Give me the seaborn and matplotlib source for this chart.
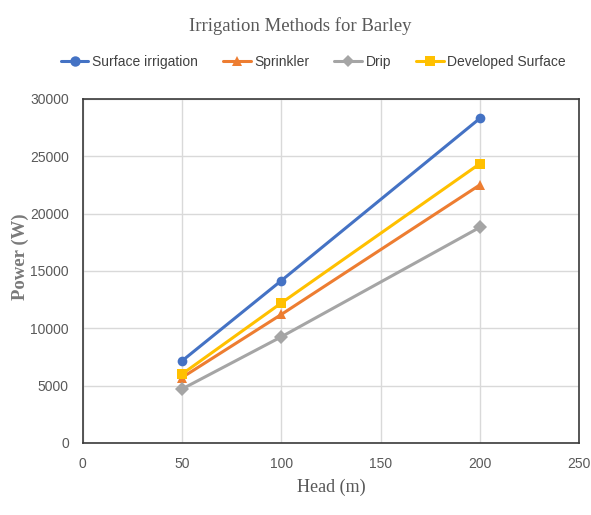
import matplotlib
matplotlib.use("Agg")
import matplotlib.pyplot as plt
import seaborn as sns
import pandas as pd

# Pumping power required for each irrigation method at various heads
head = [50, 100, 200]
surface = [7150, 14150, 28300]
sprinkler = [5700, 11200, 22500]
drip = [4700, 9250, 18800]
developed = [6000, 12200, 24350]

methods = ["Surface irrigation", "Sprinkler", "Drip", "Developed Surface"]
colors = ["#4472C4", "#ED7D31", "#A5A5A5", "#FFC000"]
markers = ["o", "^", "D", "s"]
x_ticks = [0, 50, 100, 150, 200, 250]
y_ticks = [0, 5000, 10000, 15000, 20000, 25000, 30000]

df = pd.DataFrame({
    "Head": head * 4,
    "Power": surface + sprinkler + drip + developed,
    "Method": sum([[m] * len(head) for m in methods], []),
})

sns.set_theme(style="white")
fig = plt.figure(figsize=(5.91, 5.15), dpi=100)
ax = fig.add_axes([0.140, 0.140, 0.840, 0.668])

sns.lineplot(
    data=df, x="Head", y="Power", hue="Method", style="Method",
    hue_order=methods, style_order=methods,
    palette=colors, markers=markers, dashes=False,
    linewidth=2.2, markersize=7, markeredgewidth=0, ax=ax, legend=False,
)

ax.set_xlim(0, 250)
ax.set_ylim(0, 30000)
ax.set_xticks(x_ticks)
ax.set_yticks(y_ticks)
tick_font = {"family": ["Liberation Sans", "DejaVu Sans"], "size": 10, "color": "#595959"}
ax.set_xticklabels([str(v) for v in x_ticks], **tick_font)
ax.set_yticklabels([str(v) for v in y_ticks], **tick_font)
ax.tick_params(axis="both", length=0, pad=10)
ax.grid(True, color="#D9D9D9", linewidth=1.0)
for s in ax.spines.values():
    s.set_visible(True)
    s.set_color("#3a3a3a")
    s.set_linewidth(1.2)

label_font = {"family": ["Liberation Serif", "DejaVu Serif"], "color": "#595959"}
ax.set_xlabel("Head (m)", fontsize=13, labelpad=6, **label_font)
ax.set_ylabel("Power (W)", fontsize=13.5, fontweight="bold",
              family=["Liberation Serif", "DejaVu Serif"], color="#7a7a7a")
ax.yaxis.set_label_coords(-0.108, 0.54)

fig.text(0.508, 0.950, "Irrigation Methods for Barley", ha="center", va="center",
         fontsize=13.5, **label_font)

handles = [plt.Line2D([], [], color=c, marker=m, linewidth=2.2,
                      markersize=6 if m == "D" else 7.5, markeredgewidth=0)
           for c, m in zip(colors, markers)]
leg = fig.legend(handles, methods, loc="center", bbox_to_anchor=(0.530, 0.879),
                 ncol=4, frameon=False, handlelength=2.0, handletextpad=0.25,
                 columnspacing=1.8,
                 prop={"family": ["Liberation Sans", "DejaVu Sans"], "size": 10})
for t in leg.get_texts():
    t.set_color("#404040")

fig.savefig("out.png", dpi=100, facecolor="white")
